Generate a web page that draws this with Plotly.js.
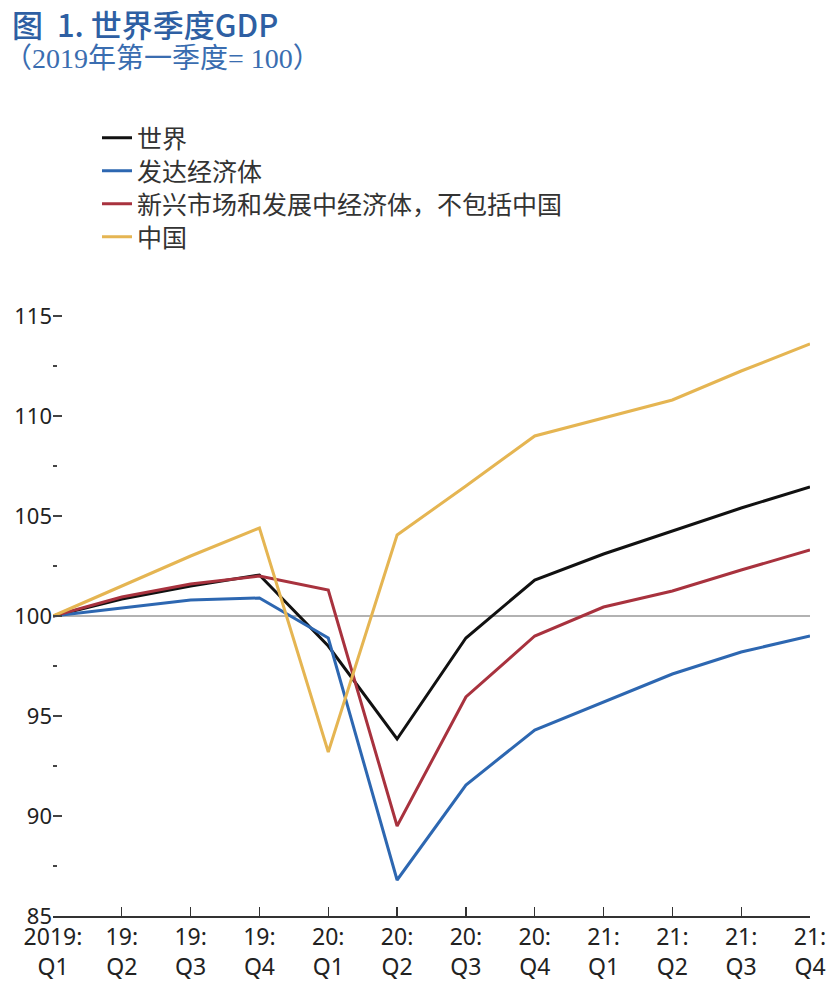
<!DOCTYPE html>
<html>
<head>
<meta charset="utf-8">
<script src="https://cdn.plot.ly/plotly-3.0.1.min.js"></script>
<style>html,body{margin:0;padding:0;background:#fff;}#chart{width:838px;height:1000px;}</style>
</head>
<body>
<div id="chart"></div>
<script>
const quarters = ["2019:<br>Q1","19:<br>Q2","19:<br>Q3","19:<br>Q4","20:<br>Q1","20:<br>Q2","20:<br>Q3","20:<br>Q4","21:<br>Q1","21:<br>Q2","21:<br>Q3","21:<br>Q4"];
const world    = [100, 100.85, 101.5, 102.05, 98.5, 93.85, 98.9, 101.8, 103.1, 104.25, 105.4, 106.45];
const advanced = [100, 100.4, 100.8, 100.9, 98.9, 86.8, 91.55, 94.3, 95.7, 97.1, 98.2, 99.0];
const emerging = [100, 100.95, 101.6, 102.0, 101.3, 89.5, 95.95, 99.0, 100.45, 101.25, 102.3, 103.3];
const china    = [100, 101.5, 103.0, 104.4, 93.2, 104.05, 106.5, 109.0, 109.9, 110.8, 112.25, 113.6];
const seriesNames = ["世界","发达经济体","新兴市场和发展中经济体，不包括中国","中国"];
const seriesColors = ["#111111","#2d67b1","#a8323e","#e5b552"];
const seriesData = [world, advanced, emerging, china];
const yTickVals = [85,90,95,100,105,110,115];
const yMinorVals = [87.5,92.5,97.5,102.5,107.5,112.5];
const titleText = "图\u00a0\u00a01. 世界季度GDP";
const subtitleText = "（2019年第一季度= 100）";

const legendIds = ['legend','legend2','legend3','legend4'];
const traces = seriesData.map((d,i)=>({
  x: quarters, y: d, type:'scatter', mode:'lines', name: seriesNames[i],
  line:{color: seriesColors[i], width:3}, legend: legendIds[i]
}));

const T = 314, B = 84, L = 53, R = 28;
const PH = 1000 - T - B, PW = 838 - L - R;
const cjk = '"Noto Sans CJK SC", "Noto Sans", sans-serif';
const legendBase = (yPix)=>({
  x:(97-L)/PW, y:(1000-B-yPix)/PH, xanchor:'left', yanchor:'middle',
  font:{family:cjk, size:25, color:'#333'}, bgcolor:'rgba(0,0,0,0)', borderwidth:0
});
const yCommon = {range:[85,115.1], tickvals:yTickVals, showgrid:false, zeroline:false, showline:false,
    ticks:'inside', ticklen:9, tickcolor:'#444', tickwidth:1.3,
    minor:{tickvals:yMinorVals, ticks:'inside', ticklen:4, tickcolor:'#444', tickwidth:1.3, showgrid:false}};

const layout = {
  width:838, height:1000,
  margin:{l:L, r:R, t:T, b:B},
  paper_bgcolor:'#fff', plot_bgcolor:'#fff',
  showlegend:true,
  legend: legendBase(138),
  legend2: legendBase(171),
  legend3: legendBase(204),
  legend4: legendBase(237),
  xaxis:{type:'category', range:[0,11], showgrid:false, zeroline:false, showline:true, linecolor:'#333', linewidth:1.5,
    ticks:'inside', ticklen:9, tickcolor:'#333', tickwidth:1.3,
    tickfont:{family:'"Noto Sans", "Open Sans", sans-serif', size:23, color:'#222'}},
  yaxis: Object.assign({}, yCommon, {tickfont:{family:'"Noto Sans", "Open Sans", sans-serif', size:22, color:'#222'}}),
  yaxis2: Object.assign({}, yCommon, {overlaying:'y', side:'right', showticklabels:false}),
  shapes:[{type:'line', xref:'paper', x0:0, x1:1, yref:'y', y0:100, y1:100, line:{color:'#999', width:1.5}, layer:'below'}],
  annotations:[
    {text:titleText, xref:'paper', yref:'paper', x:(10-L)/PW, y:(1000-B-23)/PH, xanchor:'left', yanchor:'middle', showarrow:false,
     font:{family:cjk, size:31, color:'#2e5fa3', weight:500}},
    {text:subtitleText, xref:'paper', yref:'paper', x:(2-L)/PW, y:(1000-B-59)/PH, xanchor:'left', yanchor:'middle', showarrow:false,
     font:{family:'"Liberation Serif", "Noto Sans CJK SC", serif', size:28, color:'#3a6db0'}}
  ]
};
Plotly.newPlot('chart', traces, layout, {displayModeBar:false, staticPlot:true});
</script>
</body>
</html>
